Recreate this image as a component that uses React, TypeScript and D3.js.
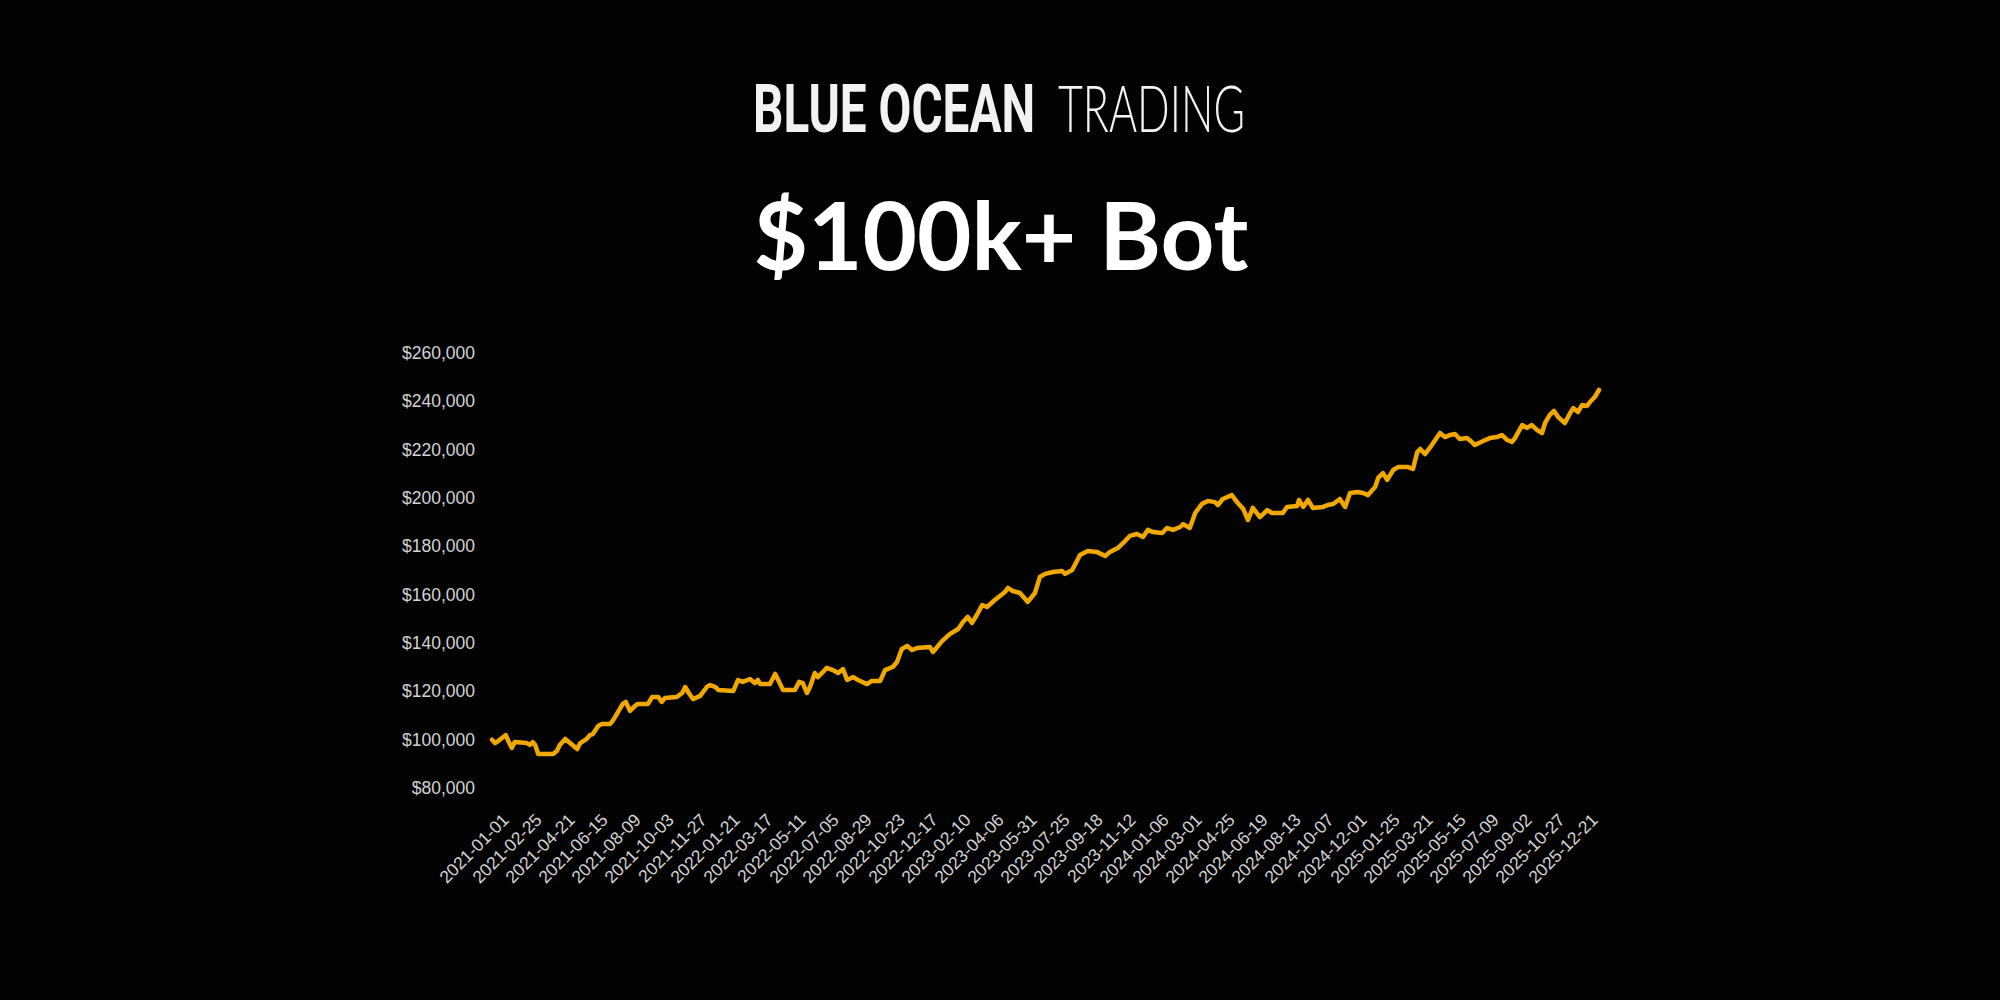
import React, { useEffect, useLayoutEffect, useRef, useState } from "react";
import * as d3 from "d3";

// ---- data ----
const startDate = "2021-01-01";
const endDate = "2026-01-20";

// day offset from startDate of each sampled point
const sampleDay = [
  0, 5, 10, 23, 28, 33, 38, 58, 63, 68, 72, 77, 102, 108, 113, 122, 130, 142, 147, 158,
  163, 168, 177, 183, 197, 202, 218, 223, 230, 238, 243, 260, 267, 277, 283, 288, 308, 317, 322, 328,
  335, 347, 358, 363, 372, 377, 402, 410, 418, 430, 438, 443, 447, 463, 472, 477, 485, 505, 512, 518,
  525, 530, 538, 543, 550, 558, 568, 577, 585, 592, 602, 610, 625, 633, 647, 655, 668, 675, 683, 692,
  700, 708, 730, 735, 750, 763, 777, 785, 793, 800, 808, 817, 825, 838, 855, 860, 868, 880, 893, 905,
  913, 922, 935, 950, 955, 967, 980, 993, 1008, 1022, 1030, 1043, 1052, 1063, 1075, 1085, 1093, 1102, 1117, 1125,
  1135, 1147, 1152, 1163, 1172, 1183, 1193, 1205, 1210, 1218, 1233, 1243, 1252, 1260, 1268, 1280, 1292, 1300, 1318, 1325,
  1342, 1345, 1352, 1360, 1368, 1385, 1393, 1402, 1413, 1422, 1430, 1442, 1452, 1460, 1472, 1477, 1485, 1492, 1502, 1510,
  1527, 1535, 1542, 1547, 1555, 1563, 1572, 1580, 1588, 1597, 1605, 1613, 1625, 1633, 1638, 1652, 1663, 1675, 1683, 1692,
  1700, 1705, 1717, 1725, 1733, 1742, 1750, 1755, 1763, 1770, 1777, 1788, 1797, 1802, 1810, 1817, 1825, 1830, 1838, 1845,
];

// account equity in thousands of dollars
const equityK = [
  100.0, 98.6, 99.4, 101.9, 99.0, 96.6, 99.0, 98.6, 97.8, 99.0, 97.8, 94.1, 94.1, 95.3, 97.8, 100.3, 98.6, 96.1, 98.6, 100.3,
  101.9, 102.3, 105.7, 106.5, 106.5, 108.1, 114.8, 115.6, 111.9, 113.9, 114.8, 114.8, 117.7, 117.7, 115.6, 117.2, 117.7, 119.3, 121.8, 119.3,
  116.8, 118.1, 121.8, 122.6, 121.8, 120.6, 120.1, 124.7, 123.9, 125.1, 123.4, 124.7, 123.0, 123.0, 127.2, 124.7, 120.6, 120.6, 123.9, 123.4,
  119.3, 121.8, 127.6, 125.9, 127.6, 129.7, 128.8, 127.6, 129.2, 124.7, 125.9, 124.7, 123.0, 124.3, 124.3, 128.8, 130.1, 132.1, 137.5, 138.8,
  137.1, 137.9, 138.3, 136.3, 140.8, 143.7, 145.8, 148.7, 150.8, 148.3, 151.6, 155.7, 154.9, 157.8, 161.1, 162.8, 161.5, 160.7, 157.0, 160.7,
  167.3, 168.6, 169.4, 169.8, 168.6, 170.2, 176.4, 178.1, 177.7, 176.0, 177.7, 179.3, 181.4, 184.3, 185.1, 183.9, 186.8, 185.9, 185.5, 187.6,
  186.8, 188.0, 189.2, 187.6, 193.8, 197.5, 198.8, 198.3, 197.1, 199.6, 201.2, 197.9, 195.5, 190.9, 195.9, 192.1, 195.0, 193.8, 193.8, 196.3,
  196.7, 199.2, 196.3, 199.2, 195.9, 196.3, 197.1, 197.5, 199.6, 196.3, 202.1, 202.5, 202.1, 201.2, 204.6, 208.3, 210.3, 207.5, 211.6, 212.8,
  212.8, 212.0, 219.0, 220.3, 218.2, 220.7, 224.0, 226.9, 225.2, 226.1, 226.5, 224.4, 224.8, 223.2, 221.9, 223.6, 224.8, 225.2, 226.1, 224.0,
  223.2, 224.8, 230.2, 229.0, 230.2, 228.1, 226.9, 231.0, 234.4, 236.0, 233.5, 231.0, 235.2, 237.2, 235.6, 238.5, 238.1, 239.7, 241.8, 244.7,
];

const xTickLabels = [
  "2021-01-01", "2021-02-25", "2021-04-21", "2021-06-15", "2021-08-09", "2021-10-03", "2021-11-27",
  "2022-01-21", "2022-03-17", "2022-05-11", "2022-07-05", "2022-08-29", "2022-10-23", "2022-12-17",
  "2023-02-10", "2023-04-06", "2023-05-31", "2023-07-25", "2023-09-18", "2023-11-12",
  "2024-01-06", "2024-03-01", "2024-04-25", "2024-06-19", "2024-08-13", "2024-10-07", "2024-12-01",
  "2025-01-25", "2025-03-21", "2025-05-15", "2025-07-09", "2025-09-02", "2025-10-27", "2025-12-21",
];

const yTicks = [80000, 100000, 120000, 140000, 160000, 180000, 200000, 220000, 240000, 260000];

const brandBold = "BLUE OCEAN";
const brandThin = "TRADING";
const title = "$100k+ Bot";

export default function App() {
  const boldRef = useRef<SVGTextElement>(null);
  const thinRef = useRef<SVGTextElement>(null);
  const [scales, setScales] = useState({ b: 0.72, t: 0.66 });

  useEffect(() => {
    document.body.style.margin = "0";
    document.body.style.background = "#030303";
  }, []);

  useLayoutEffect(() => {
    const measure = () => {
      const wb = boldRef.current ? boldRef.current.getComputedTextLength() : 0;
      const wt = thinRef.current ? thinRef.current.getComputedTextLength() : 0;
      if (wb > 0 && wt > 0) setScales({ b: 282 / wb, t: 187 / wt });
    };
    measure();
    if ((document as any).fonts && (document as any).fonts.ready) {
      (document as any).fonts.ready.then(measure);
    }
  }, []);

  const parse = d3.utcParse("%Y-%m-%d");
  const t0 = parse(startDate) as Date;
  const t1 = parse(endDate) as Date;

  const x = d3.scaleUtc().domain([t0, t1]).range([492, 1599]);
  const y = d3.scaleLinear().domain([80000, 260000]).range([788, 353]);

  const points = sampleDay.map((d, i) => ({
    date: d3.utcDay.offset(t0, d),
    value: equityK[i] * 1000,
  }));

  const line = d3
    .line<{ date: Date; value: number }>()
    .x((d) => x(d.date))
    .y((d) => y(d.value))
    .curve(d3.curveLinear);

  const fmt = d3.format("$,.0f");

  return (
    <svg
      width={2000}
      height={1000}
      style={{ position: "absolute", left: 0, top: 0, display: "block", background: "#030303" }}
    >
      <rect x={0} y={0} width={2000} height={1000} fill="#030303" />

      {/* brand */}
      <g transform={`translate(753,132) scale(${scales.b},1)`}>
        <text
          ref={boldRef}
          x={0}
          y={0}
          fontFamily="Roboto, 'DejaVu Sans', sans-serif"
          fontWeight={700}
          fontSize={66}
          fill="#f2f2f2"
        >
          {brandBold}
        </text>
      </g>
      <g transform={`translate(1058,132) scale(${scales.t},1)`}>
        <text
          ref={thinRef}
          x={0}
          y={0}
          fontFamily="Lato, Roboto, sans-serif"
          fontWeight={300}
          fontSize={66}
          fill="#f4f4f4"
        >
          {brandThin}
        </text>
      </g>

      {/* title */}
      <text
        x={1001}
        y={270}
        textAnchor="middle"
        fontFamily="Lato, 'Open Sans', sans-serif"
        fontWeight={700}
        fontSize={94}
        fill="#ffffff"
      >
        {title}
      </text>

      {/* y axis labels */}
      <g fontFamily="'Liberation Sans', Arial, Helvetica, sans-serif" fontSize={17.5} fill="#d2d2d2">
        {yTicks.map((v) => (
          <text key={v} x={475} y={y(v)} textAnchor="end" dominantBaseline="central">
            {fmt(v)}
          </text>
        ))}
      </g>

      {/* x axis labels */}
      <g fontFamily="'Liberation Sans', Arial, Helvetica, sans-serif" fontSize={17.5} fill="#d2d2d2">
        {xTickLabels.map((s) => {
          const px = x(parse(s) as Date);
          return (
            <text
              key={s}
              transform={`translate(${px + 18},${821}) rotate(-45)`}
              textAnchor="end"
            >
              {s}
            </text>
          );
        })}
      </g>

      {/* equity line */}
      <path
        d={line(points) || ""}
        fill="none"
        stroke="#f0a800"
        strokeWidth={4.5}
        strokeLinejoin="round"
        strokeLinecap="round"
      />
    </svg>
  );
}
